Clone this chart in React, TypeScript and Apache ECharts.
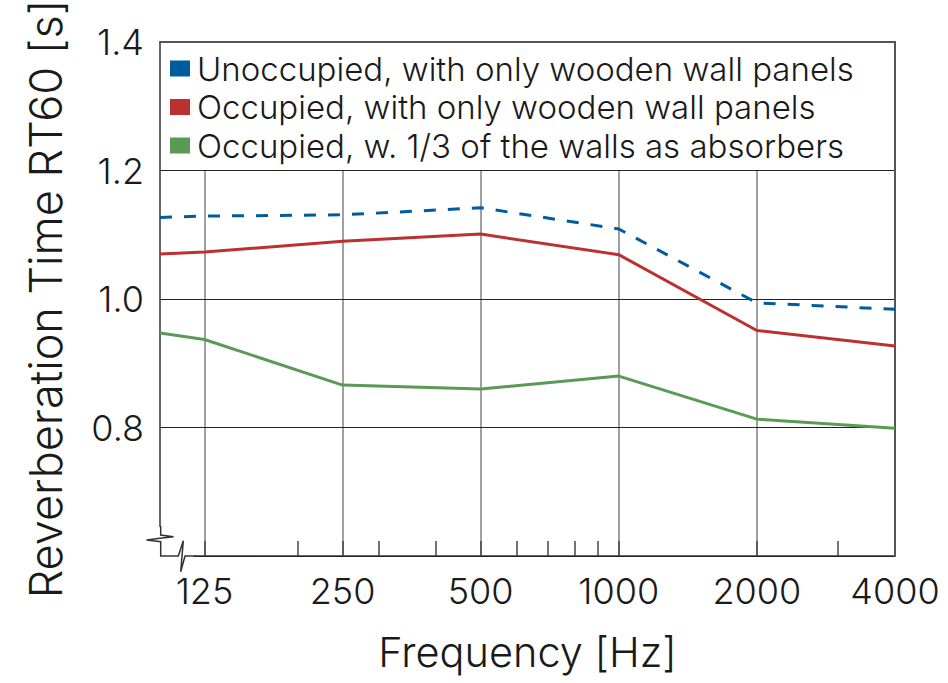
import React, { useEffect, useRef } from "react";
import * as echarts from "echarts";

const frequencies = [100, 125, 250, 500, 1000, 2000, 4000];
const unoccupiedWood = [1.127, 1.129, 1.131, 1.142, 1.109, 0.994, 0.984];
const occupiedWood = [1.07, 1.073, 1.09, 1.101, 1.069, 0.951, 0.927];
const occupiedAbsorbers = [0.947, 0.937, 0.866, 0.86, 0.88, 0.813, 0.799];
const majorTickFreqs = [125, 250, 500, 1000, 2000, 4000];
const minorTickFreqs = [200, 300, 400, 600, 700, 800, 900, 3000];
const seriesNames = [
  "Unoccupied, with only wooden wall panels",
  "Occupied, with only wooden wall panels",
  "Occupied, w. 1/3 of the walls as absorbers",
];
const seriesColors = ["#005c9e", "#bd3030", "#5a9a55"];

const FONT = "Inter, 'Noto Sans', sans-serif";
const WEIGHT = 300;
const TEXT = "#1a1a1a";

const toPoints = (vals: number[]) => frequencies.map((f, i) => [Math.log2(f), vals[i]]);

export default function App() {
  const ref = useRef<HTMLDivElement>(null);
  useEffect(() => {
    if (!ref.current) return;
    const chart = echarts.init(ref.current, undefined, { renderer: "svg" });
    const xMin = Math.log2(100);
    const xMax = Math.log2(4000);
    const majors = majorTickFreqs.map((f) => Math.log2(f));
    const minors = minorTickFreqs.map((f) => Math.log2(f));
    const option: any = {
      animation: false,
      backgroundColor: "#fff",
      textStyle: { fontFamily: FONT, fontWeight: WEIGHT },
      grid: { left: 160, right: 53, top: 42, bottom: 127, outerBoundsMode: "none", containLabel: false },
      legend: {
        data: seriesNames,
        orient: "vertical",
        left: 170,
        top: 52,
        padding: 0,
        itemWidth: 20,
        itemHeight: 16,
        itemGap: 5.5,
        icon: "rect",
        itemStyle: { borderWidth: 0 },
        textStyle: { fontSize: 33, lineHeight: 33, color: TEXT, fontFamily: FONT, fontWeight: WEIGHT, padding: [0, 0, 0, 2] },
        selectedMode: false,
      },
      xAxis: [
        {
          type: "value",
          min: xMin,
          max: xMax,
          position: "bottom",
          z: 0,
          axisLine: { show: true, lineStyle: { color: "#333", width: 1.5 } },
          axisTick: { show: true, inside: true, length: 15, customValues: majors, lineStyle: { color: "#444", width: 1.5 } },
          axisLabel: {
            customValues: majors,
            formatter: (v: number) => String(Math.round(Math.pow(2, v))),
            fontSize: 36,
            color: TEXT,
            margin: 17,
            fontFamily: FONT,
            fontWeight: WEIGHT,
          },
          splitLine: { show: true, lineStyle: { color: "#808080", width: 1.5 } },
          name: "Frequency [Hz]",
          nameLocation: "middle",
          nameGap: 75,
          nameTextStyle: { fontSize: 41.5, color: TEXT, fontFamily: FONT, fontWeight: WEIGHT },
        },
        {
          type: "value",
          min: xMin,
          max: xMax,
          position: "bottom",
          z: 1,
          axisLine: { show: false },
          axisTick: { show: true, inside: true, length: 15, customValues: minors, lineStyle: { color: "#444", width: 1.5 } },
          axisLabel: { show: false },
          splitLine: { show: false },
        },
        {
          type: "value",
          min: xMin,
          max: xMax,
          position: "top",
          z: 3,
          axisLine: { show: true, lineStyle: { color: "#555", width: 2 } },
          axisTick: { show: false },
          axisLabel: { show: false },
          splitLine: { show: false },
        },
      ],
      yAxis: [
        {
          type: "value",
          min: 0.6,
          max: 1.4,
          interval: 0.2,
          z: 3,
          axisLine: { show: true, lineStyle: { color: "#333", width: 1.5 } },
          axisTick: { show: false },
          axisLabel: {
            formatter: (v: number) => (v < 0.7 ? "" : v.toFixed(1)),
            fontSize: 36,
            color: TEXT,
            margin: 16,
            fontFamily: FONT,
            fontWeight: WEIGHT,
          },
          splitLine: { show: true, lineStyle: { color: "#222", width: 1.2 } },
          name: "Reverberation Time RT60 [s]",
          nameLocation: "middle",
          nameGap: 92,
          nameTextStyle: { fontSize: 45, color: TEXT, fontFamily: FONT, fontWeight: WEIGHT },
        },
        {
          type: "value",
          min: 0.6,
          max: 1.4,
          position: "right",
          z: 3,
          axisLine: { show: true, lineStyle: { color: "#555", width: 2 } },
          axisTick: { show: false },
          axisLabel: { show: false },
          splitLine: { show: false },
        },
      ],
      series: [
        {
          name: seriesNames[0],
          type: "line",
          data: toPoints(unoccupiedWood),
          symbol: "none",
          color: seriesColors[0],
          lineStyle: { color: seriesColors[0], width: 3, type: [12, 12] },
          markArea: {
            silent: true,
            itemStyle: { color: "#fff", opacity: 1 },
            data: [[{ yAxis: 1.2 }, { yAxis: 1.4 }]],
          },
        },
        {
          name: seriesNames[1],
          type: "line",
          data: toPoints(occupiedWood),
          symbol: "none",
          color: seriesColors[1],
          lineStyle: { color: seriesColors[1], width: 3 },
        },
        {
          name: seriesNames[2],
          type: "line",
          data: toPoints(occupiedAbsorbers),
          symbol: "none",
          color: seriesColors[2],
          lineStyle: { color: seriesColors[2], width: 3 },
        },
      ],
      graphic: [
        {
          type: "rect",
          z: 100,
          shape: { x: 144, y: 527, width: 50, height: 48 },
          style: { fill: "#fff" },
        },
        {
          type: "polyline",
          z: 101,
          shape: {
            points: [
              [160.7, 526],
              [160.7, 535],
              [173.5, 536.7],
              [160, 538.3],
              [146.5, 540],
              [160.7, 541.7],
              [160.7, 556],
              [178.3, 556],
              [183.3, 540.7],
              [180.7, 571.7],
              [185, 556],
              [195, 556],
            ],
          },
          style: { stroke: "#333", lineWidth: 1.5, fill: null },
        },
      ],
    };
    chart.setOption(option);
    return () => chart.dispose();
  }, []);
  return (
    <div
      ref={ref}
      style={{ position: "fixed", left: 0, top: 0, width: 948, height: 683, background: "#fff" }}
    />
  );
}
